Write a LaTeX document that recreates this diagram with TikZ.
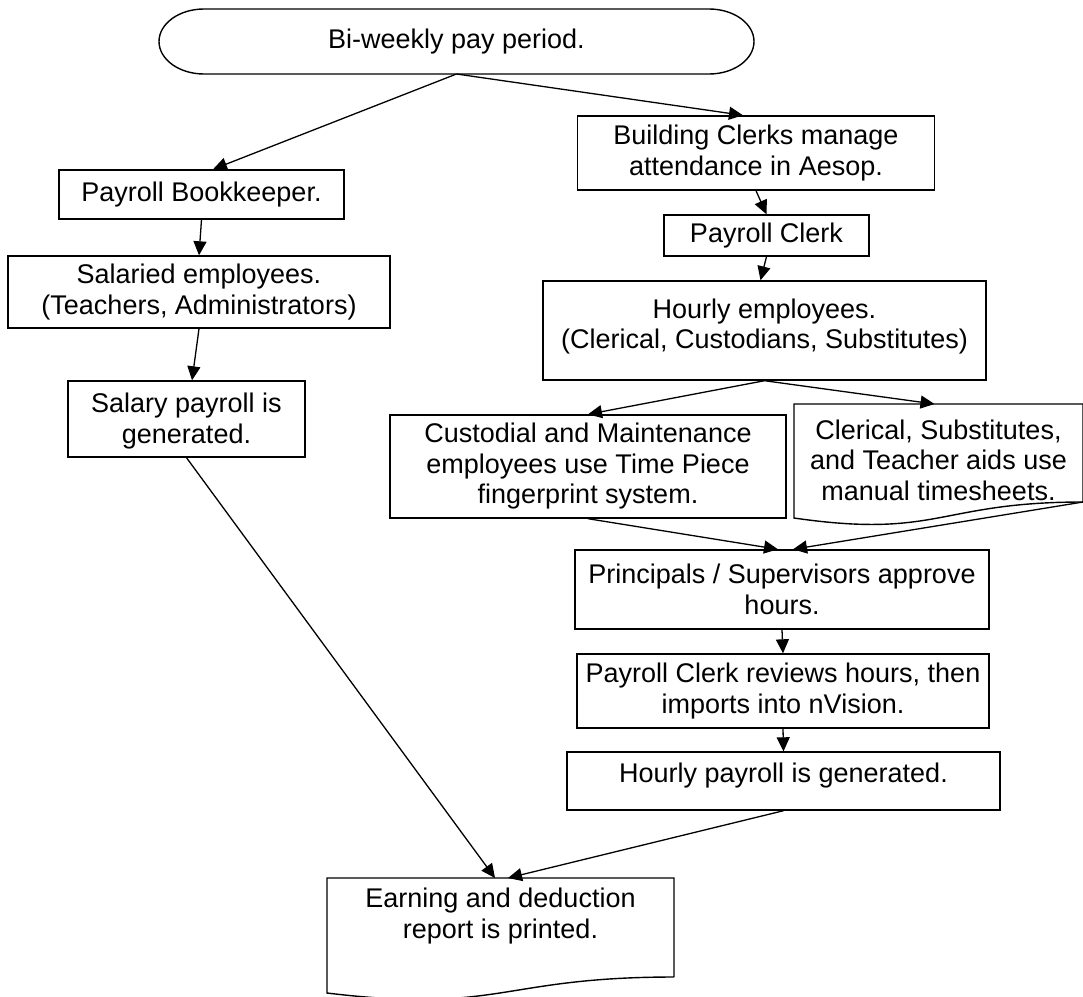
\documentclass[tikz,border=0pt]{standalone}
\usepackage{fontspec}
\setmainfont{Liberation Sans}
\usetikzlibrary{arrows.meta}

\begin{document}
\begin{tikzpicture}[x=1pt,y=-1pt,line width=1.4pt,
		box/.style={draw,align=center,inner sep=2pt,font=\fontsize{27}{30.5}\selectfont},
		txt/.style={align=center,inner sep=0pt,font=\fontsize{27}{30.5}\selectfont},
		flow/.style={line width=1.3pt,-{Triangle[length=14pt,width=13pt]}}]
		\useasboundingbox (0,0) rectangle (1083,996);

		% terminator
		\node[txt,outer sep=0pt,minimum width=595pt,minimum height=65pt] (start) at (456.5,41.5) {Bi-weekly pay period.};
		\draw ([xshift=45pt]start.north west) -- ([xshift=-45pt]start.north east)
			arc[start angle=90,end angle=-90,x radius=45pt,y radius=32.5pt]
			-- ([xshift=45pt]start.south west)
			arc[start angle=270,end angle=90,x radius=45pt,y radius=32.5pt] -- cycle;

		% salaried side
		\node[box,minimum width=285pt,minimum height=49pt] (book) at (201.5,194.5) {Payroll Bookkeeper.};
		\node[box,minimum width=382pt,minimum height=72pt] (salaried) at (199,292) {Salaried employees.\\(Teachers, Administrators)};
		\node[box,minimum width=237pt,minimum height=76pt] (salgen) at (186.5,419) {};
		\node[txt] (salgentxt) at (186.5,421) {Salary payroll is\\generated.};

		% hourly side
		\node[box,minimum width=357pt,minimum height=74pt] (clerks) at (756,153) {Building Clerks manage\\attendance in Aesop.};
		\node[box,minimum width=205pt,minimum height=41pt] (pclerk) at (766.5,235.5) {Payroll Clerk};
		\node[box,minimum width=443pt,minimum height=99pt] (hourly) at (764.5,330.5) {};
		\node[txt] (hourlytxt) at (764.5,326.5) {Hourly employees.\\(Clerical, Custodians, Substitutes)};
		\node[box,minimum width=396pt,minimum height=103pt] (custod) at (588,466.5) {Custodial and Maintenance\\employees use Time Piece\\fingerprint system.};
		\node[outer sep=0pt,minimum width=289pt,minimum height=98pt,inner sep=0pt] (sheets) at (938.5,453) {};
		\draw (sheets.south east) -- (sheets.north east) -- (sheets.north west) -- ([yshift=-16pt]sheets.south west)
			.. controls ([yshift=-37pt]sheets.south) and (sheets.south) .. (sheets.south east);
		\node[txt] (sheetstxt) at (938.5,460) {Clerical, Substitutes,\\and Teacher aids use\\manual timesheets.};
		\node[box,minimum width=414pt,minimum height=79pt] (approve) at (782,589.5) {Principals / Supervisors approve\\hours.};
		\node[box,minimum width=412pt,minimum height=74pt] (review) at (783,691) {Payroll Clerk reviews hours, then\\imports into nVision.};
		\node[box,minimum width=433pt,minimum height=58pt] (hourgen) at (783.5,781) {};
		\node[txt] (hourgentxt) at (783.5,775.5) {Hourly payroll is generated.};

		% report
		\node[outer sep=0pt,minimum width=347pt,minimum height=99pt,inner sep=0pt] (report) at (500.5,927.5) {};
		\draw (report.south east) -- (report.north east) -- (report.north west) -- ([yshift=-16pt]report.south west)
			.. controls ([yshift=-37pt]report.south) and (report.south) .. (report.south east);
		\node[txt] (reporttxt) at (500.5,916) {Earning and deduction\\report is printed.};

		\draw[flow] (start.south) -- ([xshift=11.5pt]book.north);
		\draw[flow] (start.south) -- ([xshift=-13pt]clerks.north);
		\draw[flow] (book.south) -- (salaried.north);
		\draw[flow] (salaried.south) -- ([xshift=5.5pt]salgen.north);
		\draw[flow] (salgen.south) -- ([xshift=-5.5pt]report.north);
		\draw[flow] (clerks.south) -- (pclerk.north);
		\draw[flow] (pclerk.south) -- ([xshift=-4pt]hourly.north);
		\draw[flow] (hourly.south) -- (custod.north);
		\draw[flow] (hourly.south) -- ([xshift=-4pt]sheets.north);
		\draw[flow] (custod.south) -- ([xshift=-4pt]approve.north);
		\draw[flow] (sheets.south east) -- ([xshift=11pt]approve.north);
		\draw[flow] (approve.south) -- (review.north);
		\draw[flow] (review.south) -- (hourgen.north);
		\draw[flow] (hourgen.south) -- ([xshift=7.5pt]report.north);
\end{tikzpicture}
\end{document}
